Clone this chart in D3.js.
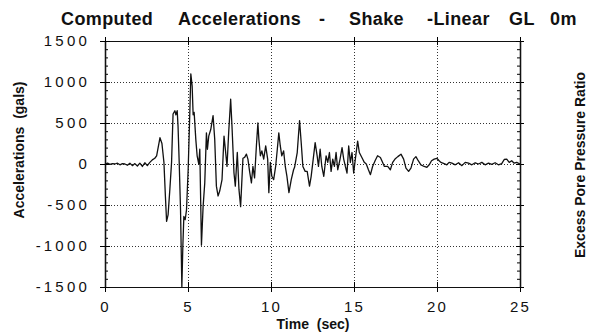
<!DOCTYPE html>
<html>
<head>
<meta charset="utf-8">
<script src="https://cdn.jsdelivr.net/npm/d3@7"></script>
<style>
  body { margin: 0; background: #fff; }
  text { font-family: "Liberation Sans", Arial, sans-serif; fill: #111; }
</style>
</head>
<body>
<svg id="chart" width="590" height="334"></svg>
<script>
// acceleration record (time in sec, accel in gals)
const times = [
  0, 0.15, 0.3, 0.45, 0.6, 0.75, 0.9, 1.05, 1.2, 1.35, 1.5, 1.65, 1.8, 1.95, 2.1, 2.25, 2.4, 2.55, 2.7, 2.85, 3.0,
  3.11, 3.31, 3.43, 3.55, 3.64, 3.71, 3.80, 3.91, 4.01, 4.07, 4.10, 4.21, 4.27, 4.35, 4.40, 4.47, 4.55, 4.63, 4.69,
  4.75, 4.83, 4.91, 5.01, 5.11, 5.17, 5.25, 5.31, 5.37, 5.47, 5.55, 5.65, 5.71, 5.81, 5.91, 6.01, 6.11, 6.17, 6.25,
  6.37, 6.51, 6.61, 6.71, 6.81, 6.91, 7.05, 7.17, 7.25, 7.35, 7.45, 7.57, 7.65, 7.77, 7.85, 7.97, 8.07, 8.17, 8.31,
  8.41, 8.52, 8.61, 8.71, 8.82, 8.91, 9.01, 9.12, 9.21, 9.27, 9.36, 9.45, 9.56, 9.68, 9.80, 9.87, 9.96, 10.05, 10.16,
  10.28, 10.38, 10.47, 10.56, 10.65, 10.76, 10.86, 10.96, 11.08, 11.22, 11.36, 11.42, 11.58, 11.72, 11.82, 11.92,
  12.06, 12.18, 12.32, 12.42, 12.52, 12.66, 12.78, 12.86, 12.96, 13.06, 13.18, 13.32, 13.42, 13.52, 13.62, 13.72,
  13.82, 13.92, 14.02, 14.16, 14.28, 14.38, 14.48, 14.58, 14.68, 14.78, 14.88, 14.98, 15.08, 15.22, 15.32, 15.42,
  15.52, 15.62, 15.74, 15.87, 15.99, 16.12, 16.27, 16.42, 16.59, 16.72, 16.83, 17.03, 17.19, 17.33, 17.47, 17.64,
  17.83, 17.99, 18.13, 18.29, 18.43, 18.59, 18.73, 18.87, 19.03, 19.23, 19.39, 19.53, 19.67, 19.83, 19.99, 20.13,
  20.23, 20.43, 20.59, 20.73, 20.9, 21.1, 21.3, 21.5, 21.7, 21.9, 22.1, 22.3, 22.5, 22.7, 22.9, 23.1, 23.3, 23.5,
  23.7, 23.9, 24.05, 24.2, 24.35, 24.5, 24.65, 24.8, 25.0
];
const accels = [
  0, 10, -5, 5, 0, 10, -10, 5, 0, -15, 10, -20, 5, -25, 10, -30, 15, -20, 20, 50, 70,
  100, 320, 250, 20, -400, -700, -620, -300, 20, 420, 610, 650, 600, 650, 460, 20, -560, -1500, -1000,
  -640, -680, -560, -70, 630, 1100, 950, 600, 630, 300, 100, 0, 180, -990, -520, -230, 380, 180, 340,
  420, 590, 300, -270, -390, -330, -190, 340, 180, -30, 380, 790, 460, -110, -270, 140, -310, -520, 70,
  80, 120, 60, -90, -230, -30, -170, 220, 500, 300, 100, 160, 60, 220, 60, -350, 20, -150, -190,
  -30, 180, 380, 220, 100, 160, -30, -150, -350, -190, -70, -40, 140, 530, 260, -30,
  -90, -90, -270, -150, 20, 260, 100, -30, 180, -30, -150, 100, 20, 140, -90, 60,
  -30, 140, -70, 60, 200, 60, -30, -110, 220, 20, 140, -110, 60, 280, 140, 100,
  60, 20, 0, -70, -130, -30, 40, 100, 80, 20, -30, -30, -70, 20, 60, 90,
  120, 60, -50, -90, -50, 60, 90, 40, -10, -30, -40, -10, 40, 60, 70, 40,
  20, 5, -10, 20, 10, -10, 15, -20, 20, 10, -10, 15, 0, 20, -10, 10, -5, 15,
  -10, 5, 55, 60, 20, 40, 10, 20, 0
];
const xTicks = [0, 5, 10, 15, 20, 25];
const yTicks = [-1500, -1000, -500, 0, 500, 1000, 1500];
const yMinor = d3.range(-1500, 1501, 100);
const xGrid = [5, 10, 15, 20];
const yGrid = [-1000, -500, 0, 500, 1000];
const titleWords = ['Computed', 'Accelerations', '-', 'Shake', '-Linear', 'GL', '0m'];
const titleX = [61, 178, 319, 349, 427, 509, 550];

const svg = d3.select('#chart');
const plotL = 105, plotR = 520, plotT = 41, plotB = 287;

const x = d3.scaleLinear().domain([0, 25]).range([plotL, plotR]);
const y = d3.scaleLinear().domain([-1500, 1500]).range([plotB, plotT]);

// dotted grid
svg.append('g')
  .attr('transform', `translate(0,${plotB})`)
  .call(d3.axisBottom(x).tickValues(xGrid).tickSize(-(plotB - plotT)).tickFormat(''))
  .call(g => g.select('.domain').remove())
  .selectAll('line').attr('stroke', '#333').attr('stroke-dasharray', '1,2');

svg.append('g')
  .attr('transform', `translate(${plotL},0)`)
  .call(d3.axisLeft(y).tickValues(yGrid).tickSize(-(plotR - plotL)).tickFormat(''))
  .call(g => g.select('.domain').remove())
  .selectAll('line').attr('stroke', '#333').attr('stroke-dasharray', '1,2');

// top frame line with crossing ticks
svg.append('g')
  .attr('transform', `translate(0,${plotT})`)
  .call(d3.axisTop(x).tickValues(xTicks).tickSize(4).tickSizeOuter(0).tickFormat(''));
svg.append('g')
  .attr('transform', `translate(0,${plotT})`)
  .call(d3.axisBottom(x).tickValues(xTicks).tickSize(4).tickSizeOuter(0).tickFormat(''));

// bottom axis
svg.append('g')
  .attr('class', 'xlab')
  .attr('transform', `translate(0,${plotB})`)
  .call(d3.axisBottom(x).tickValues(xTicks).tickSize(5).tickSizeOuter(0).tickPadding(9).tickFormat(d => d));
svg.append('g')
  .attr('transform', `translate(0,${plotB})`)
  .call(d3.axisTop(x).tickValues(xTicks).tickSize(5).tickSizeOuter(0).tickFormat(''));

// left axis, major ticks cross, minor inside
svg.append('g')
  .attr('class', 'ylab')
  .attr('transform', `translate(${plotL},0)`)
  .call(d3.axisLeft(y).tickValues(yTicks).tickSize(5).tickSizeOuter(0).tickPadding(10).tickFormat(d => d));
svg.append('g')
  .attr('transform', `translate(${plotL},0)`)
  .call(d3.axisRight(y).tickValues(yMinor).tickSize(3).tickSizeOuter(0).tickFormat(''));
svg.append('g')
  .attr('transform', `translate(${plotL},0)`)
  .call(d3.axisRight(y).tickValues(yTicks).tickSize(5).tickSizeOuter(0).tickFormat(''));

// right axis (pore pressure ratio, no labels)
svg.append('g')
  .attr('transform', `translate(${plotR},0)`)
  .call(d3.axisLeft(y).tickValues(yMinor).tickSize(3).tickSizeOuter(0).tickFormat(''));
svg.append('g')
  .attr('transform', `translate(${plotR},0)`)
  .call(d3.axisRight(y).tickValues(yTicks).tickSize(4).tickSizeOuter(0).tickFormat(''));
svg.append('g')
  .attr('transform', `translate(${plotR},0)`)
  .call(d3.axisLeft(y).tickValues(yTicks).tickSize(4).tickSizeOuter(0).tickFormat(''));

svg.selectAll('.domain').attr('stroke', '#111').attr('stroke-width', 1.2);
svg.selectAll('.tick text')
  .attr('font-size', 15)
  .attr('fill', '#111');
svg.selectAll('.ylab .tick text').attr('letter-spacing', '3.2px');
svg.selectAll('.xlab .tick text').attr('letter-spacing', '2.2px');

// the trace
const points = times.map((t, i) => [t, accels[i]]);
const line = d3.line()
  .x(d => x(d[0]))
  .y(d => y(d[1]));

svg.append('path')
  .datum(points)
  .attr('d', line)
  .attr('fill', 'none')
  .attr('stroke', '#111')
  .attr('stroke-width', 1.3)
  .attr('stroke-linejoin', 'round');

// titles
svg.append('g')
  .selectAll('text')
  .data(titleWords)
  .join('text')
  .attr('x', (d, i) => titleX[i])
  .attr('y', 25)
  .attr('font-size', 18)
  .attr('font-weight', 'bold')
  .attr('letter-spacing', '0.4px')
  .text(d => d);

svg.append('text')
  .attr('transform', 'translate(24,150) rotate(-90)')
  .attr('text-anchor', 'middle')
  .attr('font-size', 14)
  .attr('font-weight', 'bold')
  .attr('xml:space', 'preserve')
  .text('Accelerations  (gals)');

svg.append('text')
  .attr('x', 313)
  .attr('y', 329)
  .attr('text-anchor', 'middle')
  .attr('font-size', 14)
  .attr('font-weight', 'bold')
  .attr('xml:space', 'preserve')
  .text('Time  (sec)');

svg.append('text')
  .attr('transform', 'translate(585,165) rotate(-90)')
  .attr('text-anchor', 'middle')
  .attr('font-size', 14)
  .attr('font-weight', 'bold')
  .text('Excess Pore Pressure Ratio');
</script>
</body>
</html>
